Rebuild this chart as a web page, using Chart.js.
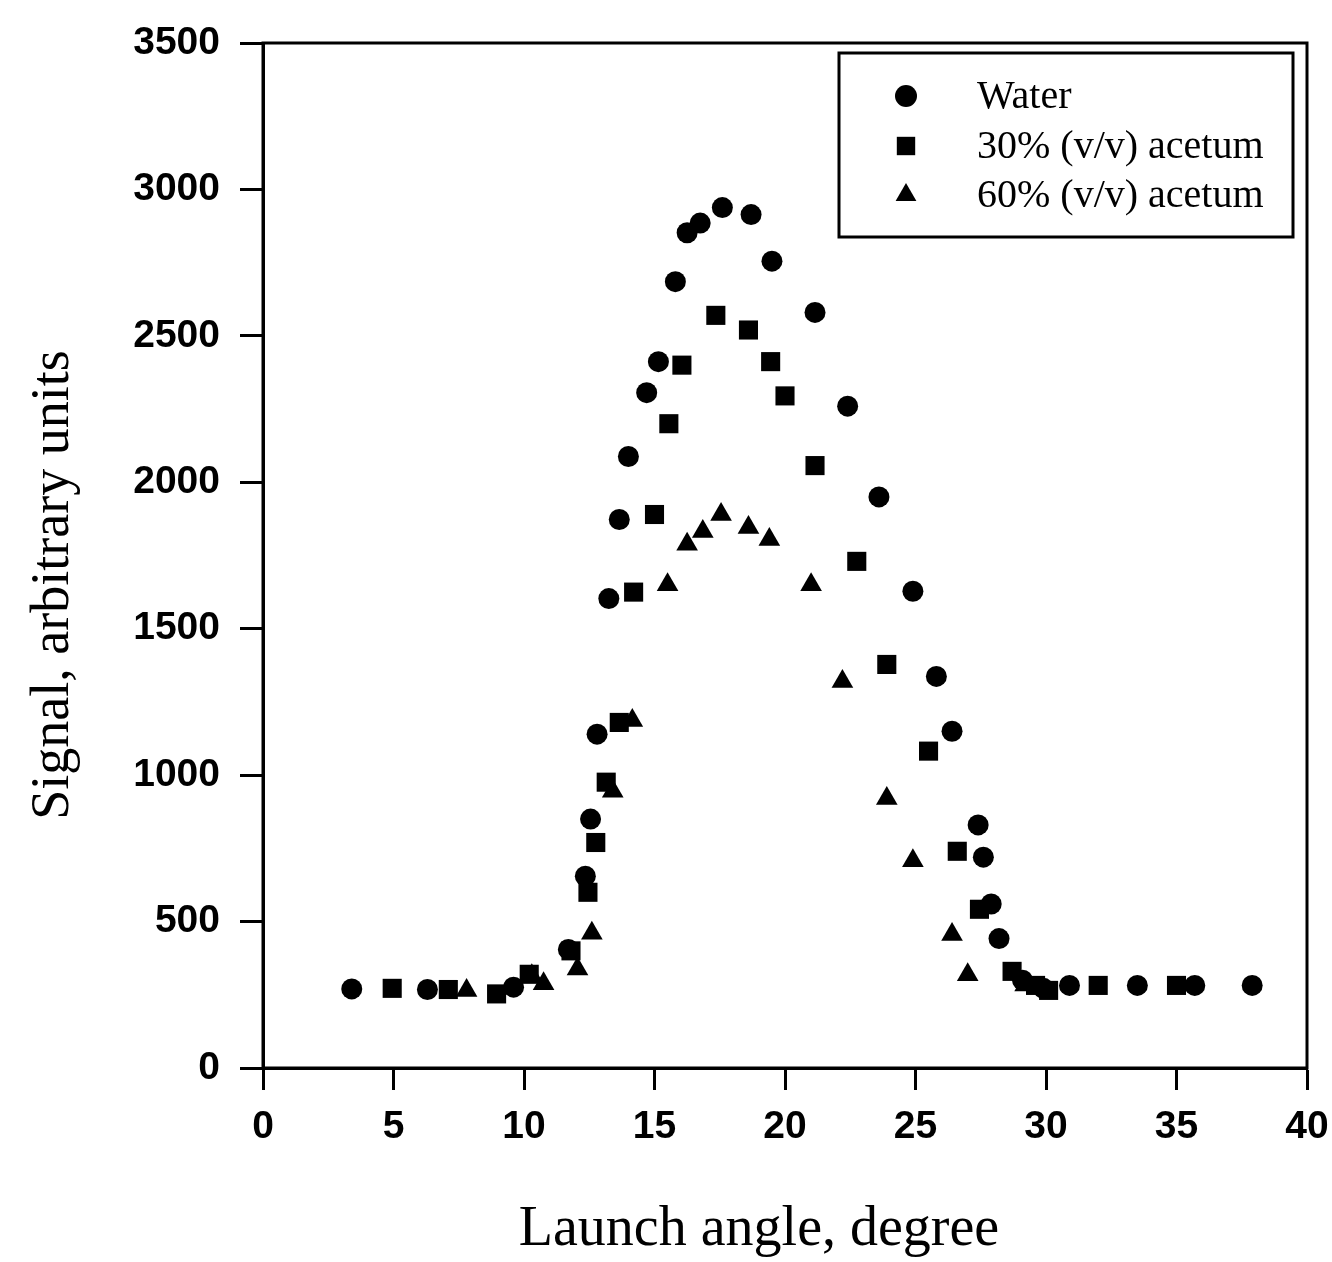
<!DOCTYPE html>
<html>
<head>
<meta charset="utf-8">
<script src="https://cdn.jsdelivr.net/npm/chart.js@4.4.1/dist/chart.umd.min.js"></script>
<style>
  html, body { margin: 0; padding: 0; background: #fff; }
  #wrap { width: 1332px; height: 1262px; }
</style>
</head>
<body>
<div id="wrap"><canvas id="signal-chart" width="1332" height="1262"></canvas></div>
<script>
// launch angle (degree) vs signal for each medium
const waterX = [3.4, 6.3, 9.6, 11.7, 12.35, 12.55, 12.8, 13.25, 13.65, 14.0, 14.7, 15.15, 15.8, 16.25, 16.75, 17.6, 18.7, 19.5, 21.15, 22.4, 23.6, 24.9, 25.8, 26.4, 27.4, 27.6, 27.9, 28.2, 29.1, 29.9, 30.9, 33.5, 35.7, 37.9];
const waterY = [270, 268, 276, 405, 655, 850, 1140, 1603, 1873, 2088, 2306, 2412, 2685, 2852, 2885, 2938, 2914, 2755, 2580, 2260, 1950, 1628, 1337, 1150, 830, 720, 560, 442, 300, 272, 282, 282, 282, 282];

const acet30X = [4.95, 7.1, 8.95, 10.2, 11.8, 12.45, 12.75, 13.15, 13.65, 14.2, 15.0, 15.55, 16.05, 17.35, 18.6, 19.45, 20.0, 21.15, 22.75, 23.9, 25.5, 26.6, 27.45, 28.7, 29.6, 30.1, 32.0, 35.0];
const acet30Y = [272, 268, 253, 320, 400, 600, 770, 976, 1180, 1625, 1890, 2200, 2400, 2570, 2520, 2412, 2295, 2057, 1730, 1378, 1082, 740, 542, 330, 282, 265, 282, 282];

const acet60X = [7.8, 10.3, 10.75, 12.05, 12.6, 13.4, 14.15, 15.5, 16.25, 16.85, 17.55, 18.6, 19.4, 21.0, 22.2, 23.9, 24.9, 26.4, 27.0, 29.2];
const acet60Y = [265, 315, 288, 338, 460, 945, 1187, 1650, 1788, 1832, 1890, 1846, 1805, 1650, 1320, 920, 708, 456, 318, 283];

const seriesNames = ["Water", "30% (v/v) acetum", "60% (v/v) acetum"];
const xTicks = [0, 40, 5];
const yTicks = [0, 3500, 500];

function toPoints(xs, ys) {
  return xs.map((x, i) => ({ x: x, y: ys[i] }));
}

const styles = [
  { pointStyle: "circle", radius: 10.5 },
  { pointStyle: "rect", radius: 13.5 },
  { pointStyle: "triangle", radius: 12.5 },
];

const datasets = [
  toPoints(waterX, waterY),
  toPoints(acet30X, acet30Y),
  toPoints(acet60X, acet60Y),
].map((pts, i) => ({
  label: seriesNames[i],
  data: pts,
  pointStyle: styles[i].pointStyle,
  pointRadius: styles[i].radius,
  pointHoverRadius: styles[i].radius,
  backgroundColor: "#000",
  borderColor: "#000",
  borderWidth: 0,
  showLine: false,
}));

// boxed legend in the upper right corner + frame + axis titles
const decorations = {
  id: "decorations",
  afterDraw(chart) {
    const ctx = chart.ctx;
    const a = chart.chartArea;
    ctx.save();
    ctx.strokeStyle = "#000";
    ctx.lineWidth = 3;
    ctx.strokeRect(a.left, a.top, a.right - a.left, a.bottom - a.top);

    // legend
    ctx.strokeRect(839, 53, 454, 184);
    const rowsY = [96, 146, 195];
    ctx.fillStyle = "#000";
    ctx.font = "40px 'Liberation Serif', 'Times New Roman', serif";
    ctx.textBaseline = "middle";
    ctx.textAlign = "left";
    chart.data.datasets.forEach((ds, i) => {
      const opts = { pointStyle: styles[i].pointStyle, radius: i === 0 ? 11 : styles[i].radius - 0.5, rotation: 0, borderWidth: 0 };
      ctx.fillStyle = "#000";
      ctx.strokeStyle = "#000";
      Chart.helpers.drawPoint(ctx, opts, 906, rowsY[i]);
      ctx.fillText(ds.label, 977, rowsY[i] + 1);
    });

    // axis titles
    ctx.font = "54px 'Liberation Serif', 'Times New Roman', serif";
    ctx.textAlign = "center";
    ctx.textBaseline = "middle";
    ctx.save();
    ctx.translate(54, 585);
    ctx.rotate(-Math.PI / 2);
    ctx.fillText("Signal, arbitrary units", 0, 0);
    ctx.restore();
    ctx.font = "56px 'Liberation Serif', 'Times New Roman', serif";
    ctx.fillText("Launch angle, degree", 759, 1230);
    ctx.restore();
  },
};

const tickFont = { family: "'Liberation Sans', Arial, sans-serif", size: 39, weight: "bold" };

var ctx = document.getElementById("signal-chart").getContext("2d");
var signalChart = new Chart(ctx, {
  type: "scatter",
  data: { datasets: datasets },
  plugins: [decorations],
  options: {
    responsive: false,
    animation: false,
    layout: { padding: { top: 43, right: 25, left: 0, bottom: 0 } },
    plugins: { legend: { display: false }, tooltip: { enabled: false } },
    scales: {
      x: {
        type: "linear",
        min: xTicks[0],
        max: xTicks[1],
        afterFit: (scale) => {
          scale.height = 194;
          scale.paddingLeft = 0;
          scale.paddingRight = 0;
        },
        ticks: { stepSize: xTicks[2], color: "#000", font: tickFont, padding: 14, maxRotation: 0 },
        grid: { drawOnChartArea: false, color: "#000", tickLength: 22, tickWidth: 3 },
        border: { color: "#000", width: 3 },
      },
      y: {
        type: "linear",
        min: yTicks[0],
        max: yTicks[1],
        afterFit: (scale) => {
          scale.width = 263;
          scale.paddingTop = 0;
          scale.paddingBottom = 0;
        },
        ticks: { stepSize: yTicks[2], color: "#000", font: tickFont, padding: 20, callback: (v) => v.toString() },
        grid: { drawOnChartArea: false, color: "#000", tickLength: 23, tickWidth: 3 },
        border: { color: "#000", width: 3 },
      },
    },
  },
});
</script>
</body>
</html>
